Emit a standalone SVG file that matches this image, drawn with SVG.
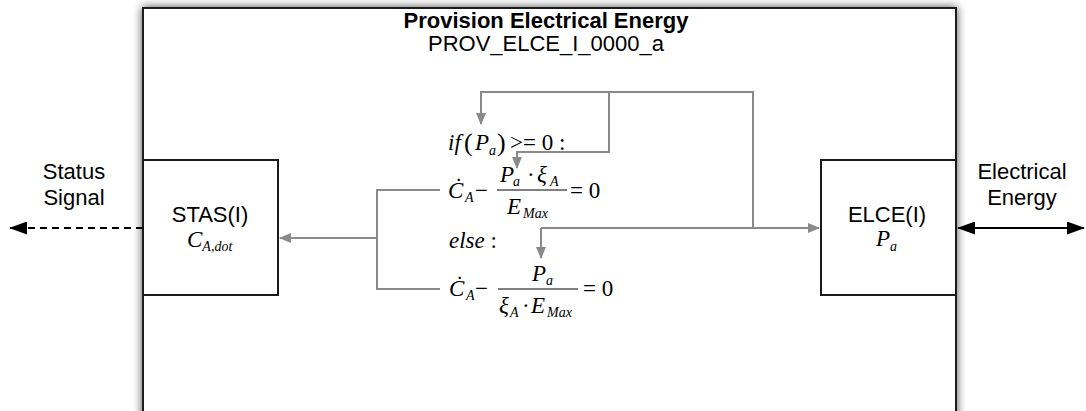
<svg xmlns="http://www.w3.org/2000/svg" width="1086" height="411" viewBox="0 0 1086 411">
<style>
.sans{font-family:"Liberation Sans",Arial,sans-serif;fill:#000}
.ttl{font-size:22px;text-anchor:middle}
.lbl{font-size:22px;text-anchor:middle}
.m{font-family:"Liberation Serif","Times New Roman",serif;font-size:23px;font-style:italic;fill:#000}
.n{font-style:normal}
.s{font-size:14px}
.box{fill:#fff;stroke:#1a1a1a;stroke-width:2}
.g{fill:none;stroke:#8a8a8a;stroke-width:2}
.k{fill:none;stroke:#000;stroke-width:2}
</style>
<defs>
<filter id="sh" x="-5%" y="-5%" width="110%" height="110%">
<feGaussianBlur in="SourceAlpha" stdDeviation="5"/>
<feComponentTransfer><feFuncA type="linear" slope="0.7"/></feComponentTransfer>
<feMerge><feMergeNode/><feMergeNode in="SourceGraphic"/></feMerge>
</filter>
<marker id="ga" markerUnits="userSpaceOnUse" markerWidth="12" markerHeight="10" refX="11" refY="5" orient="auto"><path d="M0,0 L12,5 L0,10 z" fill="#8a8a8a"/></marker>
<marker id="ka" markerUnits="userSpaceOnUse" markerWidth="18" markerHeight="13" refX="17" refY="6.5" orient="auto-start-reverse"><path d="M0,0 L18,6.5 L0,13 z" fill="#000"/></marker>
</defs>
<rect width="1086" height="411" fill="#fff"/>
<g id="outer">
<rect class="box" x="143" y="8" width="813" height="430" filter="url(#sh)"/>
<text class="sans ttl" x="546" y="28" font-weight="bold" font-size="21.5">Provision Electrical Energy</text>
<text class="sans ttl" x="546" y="51">PROV_ELCE_I_0000_a</text>
</g>
<g id="stas">
<rect class="box" x="143" y="160" width="135" height="135"/>
<text class="sans lbl" x="210" y="222">STAS(I)</text>
<text class="m" x="187" y="247">C<tspan class="s" dy="4">A,dot</tspan></text>
</g>
<g id="elce">
<rect class="box" x="821" y="160" width="135" height="135"/>
<text class="sans lbl" x="887" y="222">ELCE(I)</text>
<text class="m" x="876" y="246">P<tspan class="s" dy="5">a</tspan></text>
</g>
<g id="status">
<text class="sans lbl" x="74" y="179">Status</text>
<text class="sans lbl" x="74" y="205">Signal</text>
</g>
<g id="energy">
<text class="sans lbl" x="1022" y="179">Electrical</text>
<text class="sans lbl" x="1022" y="205">Energy</text>
</g>
<g id="equations">
<text class="m" x="448" y="150">if<tspan class="n" x="464" font-size="26" dy="1">(</tspan><tspan x="475" dy="-1">P</tspan><tspan class="s" x="489" dy="5">a</tspan><tspan class="n" x="497" font-size="26" dy="-4">)</tspan><tspan class="n" x="510" dy="-1">&gt;= 0 :</tspan></text>
<text class="m" x="448" y="198">Ċ<tspan class="s" x="465" dy="4">A</tspan><tspan class="n" x="475" dy="-4">−</tspan></text>
<line x1="497" y1="190" x2="567" y2="190" stroke="#000" stroke-width="1"/>
<text class="m" x="500" y="182">P<tspan class="s" x="513" dy="4">a</tspan><tspan class="n" x="527" dy="-4">·</tspan><tspan x="537">ξ</tspan><tspan class="s" x="550" dy="4">A</tspan></text>
<text class="m" x="507" y="214">E<tspan class="s" x="523" dy="4">Max</tspan></text>
<text class="m n" x="570" y="198">= 0</text>
<text class="m" x="449" y="248">else<tspan class="n"> :</tspan></text>
<text class="m" x="449" y="296">Ċ<tspan class="s" x="466" dy="4">A</tspan><tspan class="n" x="475" dy="-4">−</tspan></text>
<line x1="498" y1="289" x2="578" y2="289" stroke="#000" stroke-width="1"/>
<text class="m" x="532" y="281">P<tspan class="s" x="546" dy="4">a</tspan></text>
<text class="m" x="499" y="313">ξ<tspan class="s" x="510" dy="4">A</tspan><tspan class="n" x="522" dy="-4">·</tspan><tspan x="531">E</tspan><tspan class="s" x="547" dy="4">Max</tspan></text>
<text class="m n" x="583" y="296">= 0</text>
</g>
<g id="connectors">
<path class="g" d="M541,228 H819" marker-end="url(#ga)"/>
<path class="g" d="M753,228 V92 H481 V124" marker-end="url(#ga)"/>
<path class="g" d="M609,92 V152 H517 V168" marker-end="url(#ga)"/>
<path class="g" d="M541,228 V258" marker-end="url(#ga)"/>
<path class="g" d="M440,190 H377 V289 H440"/>
<path class="g" d="M377,238 H280" marker-end="url(#ga)"/>
<path class="k" d="M143,228 H10" stroke-dasharray="7,5" marker-end="url(#ka)"/>
<path class="k" d="M958,228 H1084" marker-start="url(#ka)" marker-end="url(#ka)"/>
</g>
</svg>
